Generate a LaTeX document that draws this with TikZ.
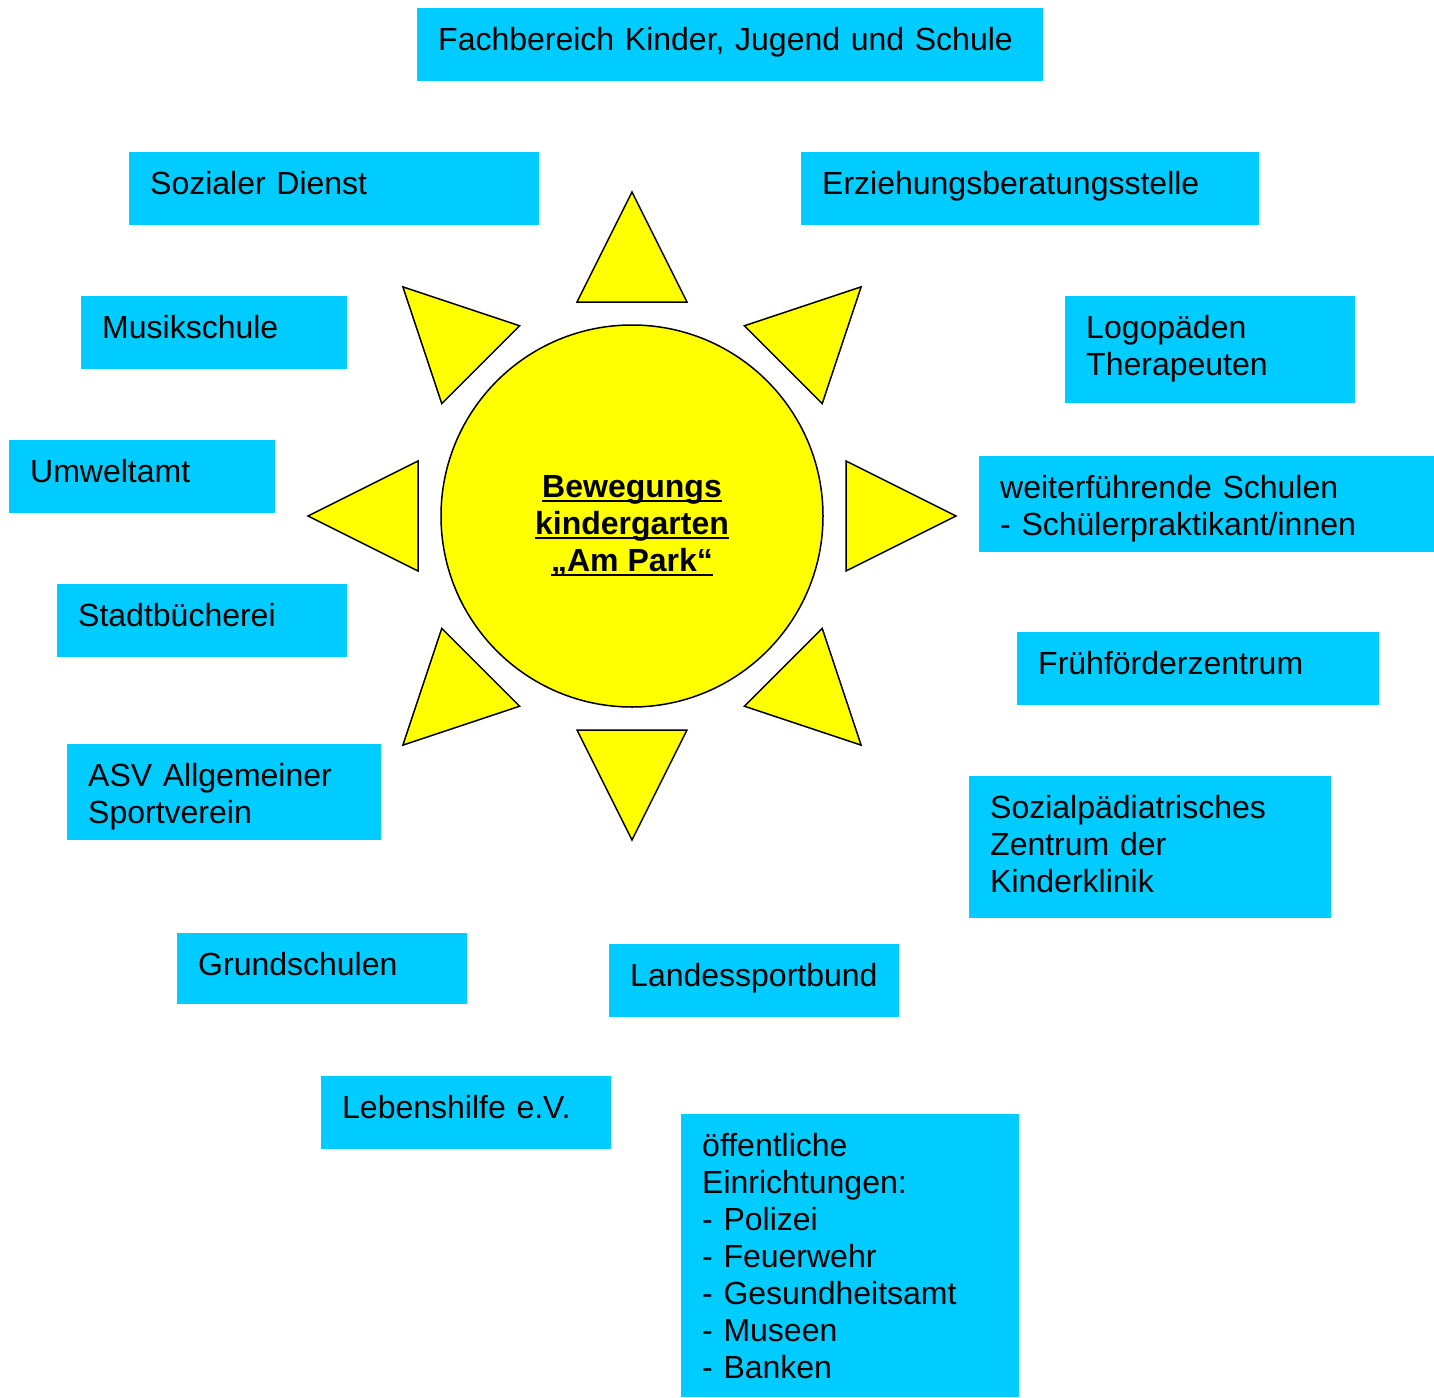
\documentclass[tikz,border=0pt]{standalone}
\usepackage{fontspec}
\setmainfont{Liberation Sans}
\usetikzlibrary{positioning}
\definecolor{boxblue}{HTML}{00CCFF}
\definecolor{sunyellow}{HTML}{FFFF00}
\newcommand{\ulline}[1]{\setbox0\hbox{#1}\rlap{\rule[-5pt]{\wd0}{2.5pt}}\box0}
\tikzstyle{partner} = [rectangle, anchor=north west, fill=boxblue, align=left, inner xsep=21pt, inner ysep=0pt, text height=42pt, font=\fontsize{32}{37}\selectfont]
\tikzstyle{sun} = [circle, minimum size=382pt, draw=black, line width=1.5pt, fill=sunyellow, align=center, text height=112pt, text depth=2pt, font=\fontsize{32}{37}\selectfont\bfseries]
\tikzstyle{ray} = [draw=black, line width=1.5pt, fill=sunyellow, line join=miter]

\begin{document}
\begin{tikzpicture}[x=1pt, y=-1pt]
  \useasboundingbox (0,0) rectangle (1434,1397);

  % the sun in the middle
  \node (sun) [sun] at (632,516) {\ulline{Bewegungs}\\\ulline{kindergarten}\\\ulline{„Am Park“}};
  \foreach \a in {0,45,...,315}
    \draw [ray, shift={(sun.center)}, rotate=\a] (324,0) -- (214,55) -- (214,-55) -- cycle;

  % the partners around it
  \node (fachbereich) [partner, text width=584pt, text depth=31pt] at (417,8) {Fachbereich Kinder, Jugend und Schule};
  \node (sozdienst) [partner, text width=368pt, text depth=31pt] at (129,152) {Sozialer Dienst};
  \node (erziehung) [partner, text width=416pt, text depth=31pt] at (801,152) {Erziehungsberatungsstelle};
  \node (musik) [partner, text width=224pt, text depth=31pt] at (81,296) {Musikschule};
  \node (logo) [partner, text width=248pt, text depth=65pt] at (1065,296) {Logopäden\\Therapeuten};
  \node (umwelt) [partner, text width=224pt, text depth=31pt] at (9,440) {Umweltamt};
  \node (schulen) [partner, text width=413pt, text depth=54pt] at (979,456) {weiterführende Schulen\\- Schülerpraktikant/innen};
  \node (buecherei) [partner, text width=248pt, text depth=31pt] at (57,584) {Stadtbücherei};
  \node (fruehfoerder) [partner, text width=320pt, text depth=31pt] at (1017,632) {Frühförderzentrum};
  \node (asv) [partner, text width=272pt, text depth=54pt] at (67,744) {ASV Allgemeiner\\Sportverein};
  \node (spz) [partner, text width=320pt, text depth=100pt] at (969,776) {Sozialpädiatrisches\\Zentrum der\\Kinderklinik};
  \node (grundschulen) [partner, text width=248pt, text depth=29pt] at (177,933) {Grundschulen};
  \node (lsb) [partner, text width=248pt, text depth=31pt] at (609,944) {Landessportbund};
  \node (lebenshilfe) [partner, text width=248pt, text depth=31pt] at (321,1076) {Lebenshilfe e.V.};
  \node (oeffentlich) [partner, text width=296pt, text depth=241pt] at (681,1114) {öffentliche\\Einrichtungen:\\- Polizei\\- Feuerwehr\\- Gesundheitsamt\\- Museen\\- Banken};

\end{tikzpicture}
\end{document}
